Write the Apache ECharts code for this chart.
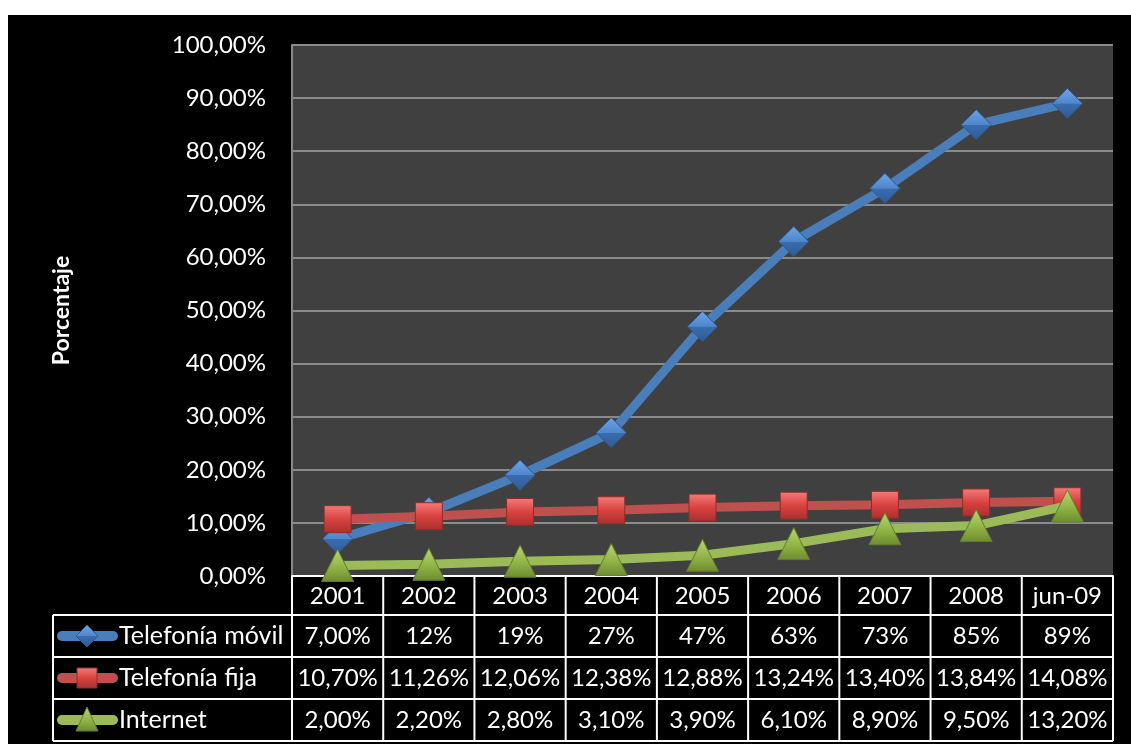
<!DOCTYPE html>
<html>
<head>
<meta charset="utf-8">
<script src="https://cdn.jsdelivr.net/npm/echarts@6/dist/echarts.min.js"></script>
<style>
html,body{margin:0;padding:0;background:#fff;}
#bg{position:absolute;left:8px;top:15px;width:1123px;height:729px;background:#000;}
#chart{position:absolute;left:0;top:0;width:1131px;height:744px;}
</style>
</head>
<body>
<div id="bg"></div>
<div id="chart"></div>
<script>
const categories = ['2001','2002','2003','2004','2005','2006','2007','2008','jun-09'];
const seriesNames = ['Telefonía móvil','Telefonía fija','Internet'];
const movil = [7, 12, 19, 27, 47, 63, 73, 85, 89];
const fija = [10.70, 11.26, 12.06, 12.38, 12.88, 13.24, 13.40, 13.84, 14.08];
const internet = [2.00, 2.20, 2.80, 3.10, 3.90, 6.10, 8.90, 9.50, 13.20];
const movilLabels = ['7,00%','12%','19%','27%','47%','63%','73%','85%','89%'];
const fijaLabels = ['10,70%','11,26%','12,06%','12,38%','12,88%','13,24%','13,40%','13,84%','14,08%'];
const internetLabels = ['2,00%','2,20%','2,80%','3,10%','3,90%','6,10%','8,90%','9,50%','13,20%'];
const yTicks = [0,10,20,30,40,50,60,70,80,90,100];

const FONT = 'Lato, "Open Sans", sans-serif';
const colors = ['#4A7EBB','#C0504D','#9BBB59'];
const markerFill = [
  {type:'linear',x:0,y:0,x2:0,y2:1,colorStops:[{offset:0,color:'#6FA3E6'},{offset:0.5,color:'#4F86CC'},{offset:0.51,color:'#3A6DAF'},{offset:1,color:'#2E5A94'}]},
  {type:'linear',x:0,y:0,x2:0,y2:1,colorStops:[{offset:0,color:'#F47C7A'},{offset:0.5,color:'#D9423F'},{offset:1,color:'#A8302D'}]},
  {type:'linear',x:0,y:0,x2:0,y2:1,colorStops:[{offset:0,color:'#B9D871'},{offset:0.6,color:'#8DB043'},{offset:1,color:'#6C8B30'}]}
];
const markerBorder = ['#2D5A8E','#8E2C2A','#637E2E'];
const symbols = ['diamond','rect','triangle'];
const symbolSizes = [[30,30],[27,27],[32,32]];
const dataSets = [movil, fija, internet];
const labelSets = [movilLabels, fijaLabels, internetLabels];

const chart = echarts.init(document.getElementById('chart'), null, {renderer:'canvas'});

const GRID = {left:292, top:45, right:18, bottom:168};

const option = {
  animation:false,
  backgroundColor:'transparent',
  grid:{left:GRID.left, top:GRID.top, right:GRID.right, bottom:GRID.bottom, show:true, backgroundColor:'#404040', borderWidth:0},
  xAxis:{
    type:'category', data:categories, boundaryGap:true,
    axisLine:{show:true, lineStyle:{color:'#ffffff', width:2}},
    axisTick:{show:false},
    axisLabel:{color:'#ffffff', fontFamily:FONT, fontSize:24, margin:8, interval:0}
  },
  yAxis:{
    type:'value', min:yTicks[0], max:yTicks[yTicks.length-1], interval:yTicks[1]-yTicks[0],
    name:'Porcentaje', nameLocation:'middle', nameRotate:90, nameGap:219,
    nameTextStyle:{color:'#ffffff', fontFamily:FONT, fontSize:23, fontWeight:'bold'},
    axisLine:{show:true, lineStyle:{color:'#8a8a8a', width:2}},
    axisTick:{show:false},
    splitLine:{show:true, lineStyle:{color:'#8a8a8a', width:2}},
    axisLabel:{color:'#ffffff', fontFamily:FONT, fontSize:24, margin:26,
      formatter:v => v.toFixed(2).replace('.',',') + '%'}
  },
  series: dataSets.map((d,i)=>({
    name:seriesNames[i], type:'line', data:d,
    symbol:symbols[i], symbolSize:symbolSizes[i],
    lineStyle:{color:colors[i], width:9},
    itemStyle:{color:markerFill[i], borderColor:markerBorder[i], borderWidth:1},
    z:2+i
  }))
};
chart.setOption(option);

// Data table drawn below the plot from the same arrays, aligned with the x scale
function buildTable(){
  const n = categories.length;
  const c0 = chart.convertToPixel({xAxisIndex:0}, 0);
  const c1 = chart.convertToPixel({xAxisIndex:0}, 1);
  const half = (c1 - c0) / 2;
  const yTop = chart.convertToPixel({yAxisIndex:0}, 0);
  const headerH = 39, rowH = 42;
  const tableLeft = 53;
  const xRight = chart.convertToPixel({xAxisIndex:0}, n-1) + half;
  const rowTops = [yTop + headerH, yTop + headerH + rowH, yTop + headerH + 2*rowH];
  const bottom = yTop + headerH + 3*rowH;
  const line = {stroke:'#ffffff', lineWidth:2};
  const els = [];
  rowTops.concat([bottom]).forEach(y=>{
    els.push({type:'line', shape:{x1:tableLeft, y1:y, x2:xRight, y2:y}, style:line, z:10});
  });
  els.push({type:'line', shape:{x1:tableLeft, y1:rowTops[0], x2:tableLeft, y2:bottom}, style:line, z:10});
  for(let k=0;k<=n;k++){
    const x = c0 - half + 2*half*k;
    els.push({type:'line', shape:{x1:x, y1:yTop, x2:x, y2:bottom}, style:line, z:10});
  }
  for(let r=0;r<3;r++){
    const cy = rowTops[r] + rowH/2;
    els.push({type:'line', shape:{x1:62, y1:cy, x2:113, y2:cy}, style:{stroke:colors[r], lineWidth:10, lineCap:'round'}, z:11});
    if(r===0){
      const s = 22;
      els.push({type:'polygon', shape:{points:[[87,cy-s/2],[87+s/2,cy],[87,cy+s/2],[87-s/2,cy]]}, style:{fill:markerFill[0], stroke:markerBorder[0], lineWidth:1}, z:12});
    } else if(r===1){
      els.push({type:'rect', shape:{x:87-10, y:cy-10, width:20, height:20}, style:{fill:markerFill[1], stroke:markerBorder[1], lineWidth:1}, z:12});
    } else {
      els.push({type:'polygon', shape:{points:[[87,cy-13],[98,cy+11],[76,cy+11]]}, style:{fill:markerFill[2], stroke:markerBorder[2], lineWidth:1}, z:12});
    }
    els.push({type:'text', x:119, y:cy, style:{text:seriesNames[r], fill:'#ffffff', font:'25px '+FONT, textVerticalAlign:'middle', textAlign:'left'}, z:12});
    labelSets[r].forEach((t,i)=>{
      const cx = chart.convertToPixel({xAxisIndex:0}, i);
      els.push({type:'text', x:cx, y:cy, style:{text:t, fill:'#ffffff', font:'24px '+FONT, textVerticalAlign:'middle', textAlign:'center'}, z:12});
    });
  }
  chart.setOption({graphic:{elements:els}});
}
buildTable();
</script>
</body>
</html>
